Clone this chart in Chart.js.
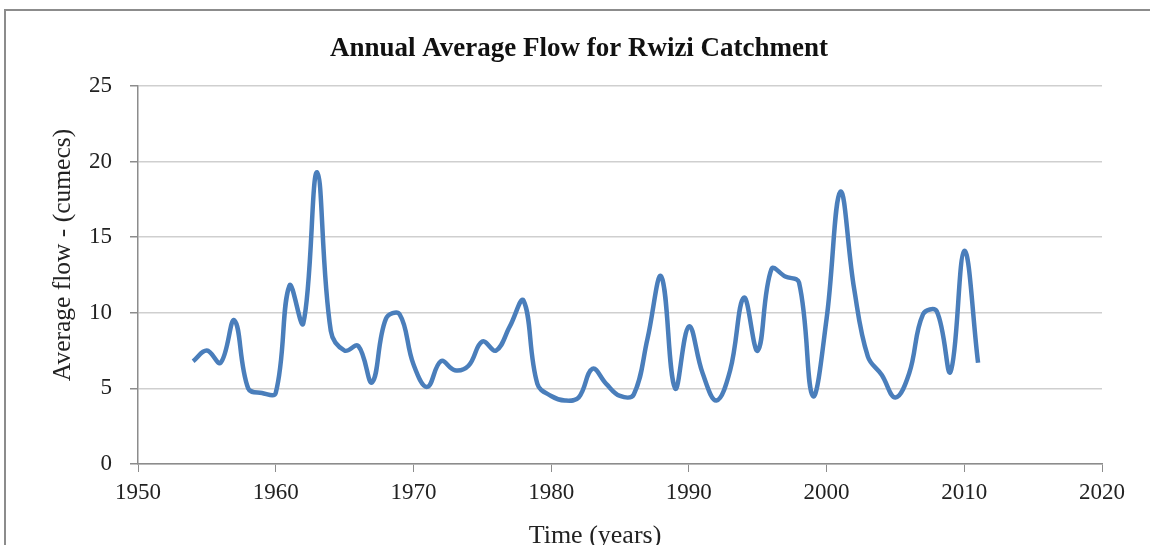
<!DOCTYPE html>
<html>
<head>
<meta charset="utf-8">
<script src="https://cdn.jsdelivr.net/npm/chart.js@4"></script>
<style>
  html, body { margin: 0; padding: 0; background: #fff; }
  #wrap { position: relative; width: 1150px; height: 545px; overflow: hidden; }
  #frame { position: absolute; left: 4px; top: 9px; width: 1200px; height: 600px; border-left: 2px solid #8c8c8c; border-top: 2px solid #8c8c8c; }
  canvas { position: absolute; left: 0; top: 0; }
</style>
</head>
<body>
<div id="wrap">
  <div id="frame"></div>
  <canvas id="flowChart" width="1150" height="545"></canvas>
</div>
<script>
const years = [1954, 1955, 1956, 1957, 1958, 1959, 1960, 1961, 1962, 1963,
  1964, 1965, 1966, 1967, 1968, 1969, 1970, 1971, 1972, 1973,
  1974, 1975, 1976, 1977, 1978, 1979, 1980, 1981, 1982, 1983,
  1984, 1985, 1986, 1987, 1988, 1989, 1990, 1991, 1992, 1993,
  1994, 1995, 1996, 1997, 1998, 1999, 2000, 2001, 2002, 2003,
  2004, 2005, 2006, 2007, 2008, 2009, 2010, 2011];
const avgFlow = [6.8, 7.5, 6.7, 9.5, 5.0, 4.7, 4.7, 11.8, 9.3, 19.3,
  8.8, 7.5, 7.8, 5.4, 9.6, 9.9, 6.6, 5.1, 6.8, 6.2,
  6.5, 8.1, 7.5, 9.1, 10.8, 5.3, 4.5, 4.2, 4.4, 6.3,
  5.3, 4.5, 4.6, 8.3, 12.4, 5.0, 9.1, 6.0, 4.2, 6.2,
  11.0, 7.5, 12.9, 12.4, 12.0, 4.5, 9.6, 18.0, 11.6, 7.1,
  5.9, 4.4, 6.0, 9.9, 10.1, 6.1, 14.1, 6.7];
const yearTicks = [1950, 1960, 1970, 1980, 1990, 2000, 2010, 2020];
const flowTicks = [0, 5, 10, 15, 20, 25];

const chartTitle = 'Annual Average Flow for Rwizi Catchment';
const xTitle = 'Time (years)';
const yTitle = 'Average flow - (cumecs)';

const serif = '"Liberation Serif", "Times New Roman", serif';

// Excel centres the titles on the whole chart, not on the plot area
const excelTexts = {
    id: 'excelTexts',
    afterDraw(chart) {
        const ctx = chart.ctx;
        ctx.save();
        ctx.textAlign = 'center';
        ctx.textBaseline = 'alphabetic';
        ctx.fillStyle = '#111';
        ctx.font = 'bold 27px ' + serif;
        ctx.fillText(chartTitle, 579, 56);
        ctx.fillStyle = '#222';
        ctx.font = '26px ' + serif;
        ctx.fillText(xTitle, 595, 543);
        ctx.translate(70, 255);
        ctx.rotate(-Math.PI / 2);
        ctx.font = '25.5px ' + serif;
        ctx.fillText(yTitle, 0, 0);
        ctx.restore();
    }
};

new Chart(document.getElementById('flowChart').getContext('2d'), {
    type: 'line',
    data: {
        datasets: [{
            label: 'Average flow',
            data: years.map((y, i) => ({ x: y, y: avgFlow[i] })),
            borderColor: '#4a7ebb',
            borderWidth: 4.5,
            pointRadius: 0,
            tension: 0.4,
            fill: false
        }]
    },
    options: {
        responsive: false,
        animation: false,
        layout: { padding: { left: 0, right: 48, top: 86, bottom: 0 } },
        plugins: {
            legend: { display: false },
            tooltip: { enabled: false },
            title: { display: false }
        },
        scales: {
            x: {
                type: 'linear',
                min: yearTicks[0],
                max: yearTicks[yearTicks.length - 1],
                afterBuildTicks: axis => { axis.ticks = yearTicks.map(v => ({ value: v })); },
                afterFit: axis => { axis.height = 81; },
                border: { color: '#8c8c8c', width: 1.5 },
                grid: { drawOnChartArea: false, drawTicks: true, tickLength: 8, color: '#8c8c8c' },
                ticks: {
                    color: '#222',
                    padding: 7,
                    font: { family: serif, size: 23 },
                    maxRotation: 0,
                    callback: v => String(v)
                }
            },
            y: {
                min: 0,
                max: 25,
                afterBuildTicks: axis => { axis.ticks = flowTicks.map(v => ({ value: v })); },
                afterFit: axis => { axis.width = 138; },
                border: { color: '#8c8c8c', width: 1.5 },
                grid: { color: '#cfcfcf', lineWidth: 1.5, tickLength: 8, tickColor: '#8c8c8c' },
                ticks: { color: '#222', padding: 18, font: { family: serif, size: 23 } }
            }
        }
    },
    plugins: [excelTexts]
});
</script>
</body>
</html>
